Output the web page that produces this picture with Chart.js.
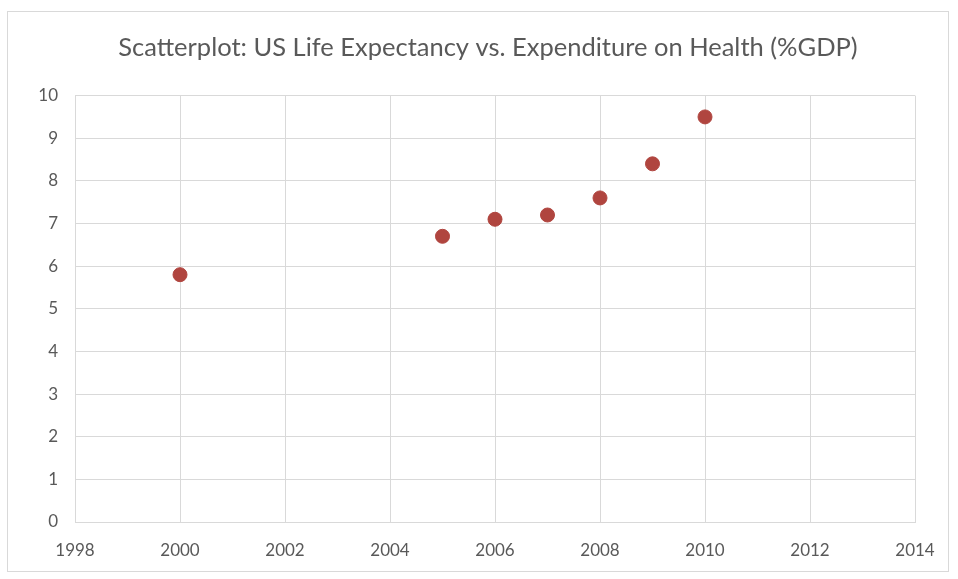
<!DOCTYPE html>
<html>
<head>
<meta charset="utf-8">
<script src="https://cdn.jsdelivr.net/npm/chart.js@4.4.1/dist/chart.umd.min.js"></script>
<style>
  html, body { margin: 0; padding: 0; background: #fff; }
  #wrap { position: relative; width: 958px; height: 579px; }
  #frame { position: absolute; left: 7px; top: 11px; width: 942px; height: 561px; border: 1px solid #d9d9d9; box-sizing: border-box; }
  canvas { position: absolute; left: 0; top: 0; }
</style>
</head>
<body>
<div id="wrap">
  <div id="frame"></div>
  <canvas id="chart" width="958" height="579"></canvas>
</div>
<script>
const titleText = "Scatterplot: US Life Expectancy vs. Expenditure on Health (%GDP)";
const years = [2000, 2005, 2006, 2007, 2008, 2009, 2010];
const healthPct = [5.8, 6.7, 7.1, 7.2, 7.6, 8.4, 9.5];
const xTicks = [1998, 2000, 2002, 2004, 2006, 2008, 2010, 2012, 2014];
const yTicks = [0, 1, 2, 3, 4, 5, 6, 7, 8, 9, 10];

const textColor = "#595959";
const gridColor = "#d9d9d9";
const fontFamily = "Lato, 'Open Sans', sans-serif";

// Excel centres the title a bit right of the canvas middle
const shiftTitle = {
  id: "shiftTitle",
  afterLayout(chart) {
    const t = chart.titleBlock;
    if (t) { t.left = 61; t.right = chart.chartArea.right; }
  }
};

const ctx = document.getElementById("chart").getContext("2d");
new Chart(ctx, {
  type: "scatter",
  data: {
    datasets: [{
      label: "Health %GDP",
      data: years.map((y, i) => ({ x: y, y: healthPct[i] })),
      backgroundColor: "#b0453f",
      borderColor: "#b0453f",
      pointRadius: 7,
      pointHoverRadius: 7
    }]
  },
  options: {
    responsive: false,
    animation: false,
    layout: { padding: { left: 20, right: 43, top: 10, bottom: 10 } },
    plugins: {
      legend: { display: false },
      tooltip: { enabled: false },
      title: {
        display: true,
        text: titleText,
        color: textColor,
        font: { family: fontFamily, size: 25.5, weight: "normal" },
        padding: { top: 22, bottom: 33 }
      }
    },
    scales: {
      x: {
        type: "linear",
        min: xTicks[0],
        max: xTicks[xTicks.length - 1],
        afterBuildTicks: s => { s.ticks = xTicks.map(v => ({ value: v })); },
        afterFit: s => { s.height = 47; },
        grid: { color: gridColor, drawTicks: false },
        border: { color: gridColor },
        ticks: {
          color: textColor,
          padding: 18,
          font: { family: fontFamily, size: 17 },
          callback: v => String(v)
        }
      },
      y: {
        min: yTicks[0],
        max: yTicks[yTicks.length - 1],
        afterBuildTicks: s => { s.ticks = yTicks.map(v => ({ value: v })); },
        afterFit: s => { s.width = 55; },
        grid: { color: gridColor, drawTicks: false },
        border: { display: false },
        ticks: {
          color: textColor,
          padding: 17,
          font: { family: fontFamily, size: 17 },
          callback: v => String(v)
        }
      }
    }
  },
  plugins: [shiftTitle]
});
</script>
</body>
</html>
